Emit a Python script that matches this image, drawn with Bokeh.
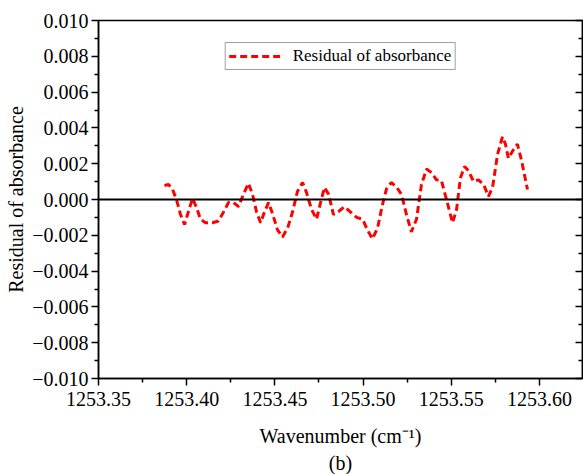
from bokeh.plotting import figure
from bokeh.models import (FixedTicker, CustomJSTickFormatter, LinearAxis, Range1d,
                          Title, Legend, LegendItem, Span)
from bokeh.embed import file_html
from bokeh.resources import INLINE

wavenumber = [1253.3874, 1253.3897, 1253.3920, 1253.3942, 1253.3965, 1253.3988, 1253.4010,
              1253.4033, 1253.4056, 1253.4078, 1253.4107, 1253.4146, 1253.4180, 1253.4209,
              1253.4237, 1253.4265, 1253.4294, 1253.4322, 1253.4350, 1253.4373, 1253.4396,
              1253.4419, 1253.4441, 1253.4464, 1253.4487, 1253.4515, 1253.4543, 1253.4572,
              1253.4600, 1253.4628, 1253.4657, 1253.4679, 1253.4708, 1253.4736, 1253.4759,
              1253.4781, 1253.4804, 1253.4832, 1253.4861, 1253.4895, 1253.4929, 1253.4963,
              1253.4997, 1253.5025, 1253.5053, 1253.5082, 1253.5110, 1253.5133, 1253.5161,
              1253.5189, 1253.5218, 1253.5246, 1253.5274, 1253.5303, 1253.5331, 1253.5360,
              1253.5388, 1253.5416, 1253.5444, 1253.5473, 1253.5507, 1253.5530, 1253.5552,
              1253.5575, 1253.5598, 1253.5626, 1253.5654, 1253.5683, 1253.5711, 1253.5734,
              1253.5762, 1253.5790, 1253.5807, 1253.5824, 1253.5847, 1253.5875, 1253.5898,
              1253.5932]
residual = [0.00078, 0.00084, 0.00056, 0.0, -0.00084, -0.0014, -0.00067,
            0.00006, -0.00045, -0.0011, -0.0013, -0.0013, -0.0012, -0.0007,
            -0.00017, -0.00017, -0.0004, 0.0003, 0.0009, 0.0003, -0.0007,
            -0.0013, -0.0007, -0.00017, -0.0008, -0.0017, -0.0021, -0.0016,
            -0.0007, 0.00045, 0.00095, 0.0004, -0.00056, -0.0011, -0.00017,
            0.00067, 0.0003, -0.00084, -0.00067, -0.0004, -0.0007, -0.001,
            -0.0011, -0.0017, -0.0022, -0.0016, -0.00028, 0.0006, 0.00095,
            0.0007, 0.00028, -0.00084, -0.0018, -0.0011, 0.00084, 0.0017,
            0.0015, 0.0011, 0.00106, 0.0, -0.0013, -0.00056, 0.0012,
            0.00185, 0.0016, 0.001, 0.0011, 0.00084, 0.00017, 0.00067,
            0.0025, 0.0035, 0.0031, 0.0023, 0.0027, 0.0031, 0.0022,
            0.00056]

x_ticks = [1253.35, 1253.40, 1253.45, 1253.50, 1253.55, 1253.60]
x_minor = [1253.375, 1253.425, 1253.475, 1253.525, 1253.575, 1253.625]
y_ticks = [-0.010, -0.008, -0.006, -0.004, -0.002, 0.0, 0.002, 0.004, 0.006, 0.008, 0.010]
y_minor = [-0.009, -0.007, -0.005, -0.003, -0.001, 0.001, 0.003, 0.005, 0.007, 0.009]
legend_label = "Residual of absorbance"

FONT = "Liberation Serif"

p = figure(width=583, height=474, output_backend="svg", toolbar_location=None,
           x_range=Range1d(1253.35, 1253.6244), y_range=Range1d(-0.010, 0.010),
           min_border_left=98, min_border_right=1, min_border_top=20, min_border_bottom=96)
p.grid.visible = False
p.outline_line_color = "black"
p.outline_line_width = 1.5
p.background_fill_color = "white"
p.border_fill_color = "white"

zero = Span(location=0, dimension="width", line_color="black", line_width=2)
p.add_layout(zero)

r = p.line(wavenumber, residual, line_color="#ff0000", line_width=3, line_dash="7 4")

xfmt = CustomJSTickFormatter(code="return tick.toFixed(2);")
yfmt = CustomJSTickFormatter(code="""
if (Math.abs(tick) < 1e-9) { return '0.000'; }
return (tick < 0 ? '\u2212' : '') + Math.abs(tick).toFixed(3);
""")

xa = p.xaxis[0]
xa.ticker = FixedTicker(ticks=x_ticks, minor_ticks=x_minor)
xa.formatter = xfmt
xa.axis_label = "Wavenumber (cm\u207b\u00b9)"
ya = p.yaxis[0]
ya.ticker = FixedTicker(ticks=y_ticks, minor_ticks=y_minor)
ya.formatter = yfmt
ya.axis_label = "Residual of absorbance"

for ax in (xa, ya):
    ax.major_label_text_font = FONT
    ax.major_label_text_font_size = "20px"
    ax.major_label_text_color = "black"
    ax.axis_label_text_font = FONT
    ax.axis_label_text_font_size = "20px"
    ax.axis_label_text_font_style = "normal"
    ax.axis_label_text_color = "black"
    ax.axis_line_width = 1.5
    ax.major_tick_line_width = 1.5
    ax.minor_tick_line_width = 1.5
    ax.major_tick_out = 7
    ax.major_tick_in = 0
    ax.minor_tick_out = 4
    ax.minor_tick_in = 0
    ax.major_label_standoff = 3
xa.major_label_standoff = 6
xa.axis_label_standoff = 16
ya.axis_label_standoff = 2

ra = LinearAxis(ticker=FixedTicker(ticks=y_ticks, minor_ticks=y_minor),
                formatter=CustomJSTickFormatter(code="return '';"),
                major_tick_in=7, major_tick_out=0,
                minor_tick_in=4, minor_tick_out=0, axis_line_width=1.5,
                major_tick_line_width=1.5, minor_tick_line_width=1.5,
                major_label_standoff=0)
p.add_layout(ra, "right")

cap = Title(text="(b)", align="center", text_font=FONT, text_font_size="20px",
            text_font_style="normal", text_color="black", offset=0, standoff=0)
p.add_layout(cap, "below")

legend = Legend(items=[LegendItem(label=legend_label, renderers=[r])],
                location="top_center", margin=22, padding=3, spacing=0,
                glyph_width=52, glyph_height=18, label_standoff=12,
                label_text_font=FONT, label_text_font_size="17px",
                label_text_color="black",
                border_line_color="#444444", border_line_width=1,
                background_fill_alpha=1.0)
p.add_layout(legend)

open("out.html", "w").write(file_html(p, INLINE))
